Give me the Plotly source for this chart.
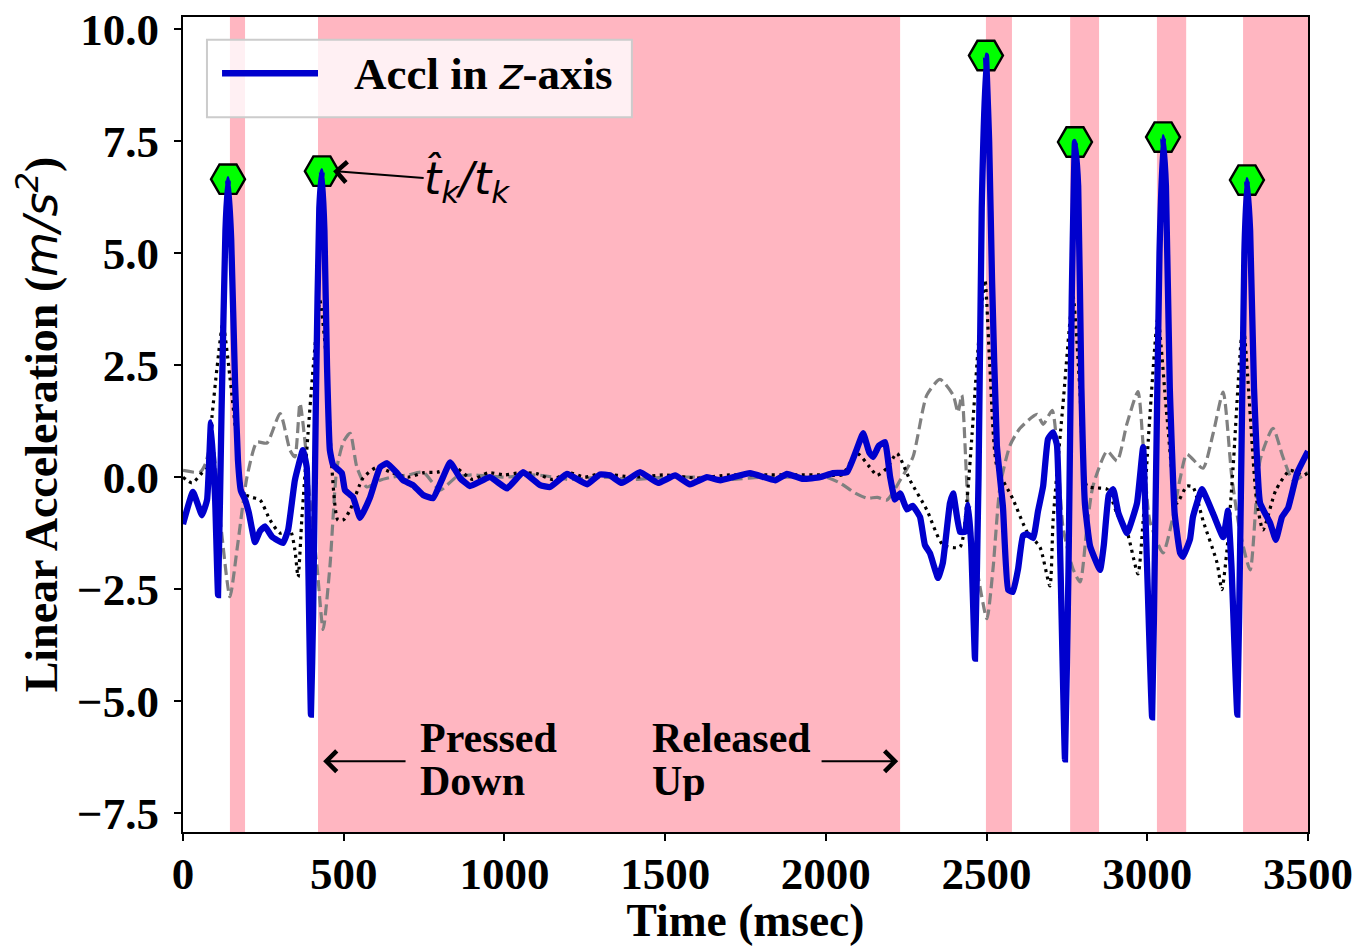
import plotly.graph_objects as go

# ---------------- data ----------------
blue_t = [0, 31, 59, 75, 87, 100, 109, 120, 132, 140, 150, 162, 171, 180, 193, 205, 224, 240, 255, 277,
          311, 327, 348, 373, 385, 390, 398, 405, 414, 424, 432, 440, 448, 457, 467, 494, 504, 529, 551, 582,
          613, 635, 666, 685, 716, 747, 778, 809, 831, 862, 893, 955, 1008, 1058, 1111, 1142, 1195, 1257, 1297, 1328,
          1365, 1422, 1478, 1531, 1577, 1630, 1671, 1764, 1842, 1879, 1929, 1982, 2022, 2066, 2095, 2116, 2135, 2147, 2165, 2184,
          2200, 2215, 2231, 2252, 2270, 2293, 2308, 2324, 2349, 2364, 2386, 2396, 2417, 2433, 2443, 2452, 2464, 2475, 2485, 2498,
          2508, 2517, 2532, 2551, 2567, 2582, 2598, 2613, 2626, 2645, 2660, 2676, 2691, 2707, 2719, 2730, 2744, 2755, 2765, 2775,
          2785, 2795, 2806, 2822, 2853, 2865, 2880, 2894, 2910, 2937, 2968, 2987, 2995, 3015, 3025, 3038, 3049, 3058, 3070, 3085,
          3102, 3111, 3133, 3142, 3170, 3205, 3236, 3251, 3262, 3280, 3290, 3302, 3310, 3320, 3332, 3351, 3382, 3400, 3419, 3438,
          3466, 3500]
blue_v = [-1.05, -0.33, -0.85, -0.5, 1.22, -0.5, -2.63, 1.5, 5.5, 6.65, 5.3, 2.1, 0.38, -0.3, -0.5, -0.8, -1.45, -1.2, -1.1, -1.33,
          -1.47, -1.18, -0.07, 0.6, 0.22, -2.0, -5.3, -3.0, 2.0, 6.0, 6.83, 5.5, 2.5, 0.6, 0.27, 0.09, -0.29, -0.45, -0.91, -0.45,
          0.22, 0.31, 0.09, -0.07, -0.18, -0.4, -0.47, 0.0, 0.33, -0.02, -0.2, 0.0, -0.25, 0.11, -0.18, -0.22, 0.07, -0.16, 0.06, 0.04,
          -0.13, 0.11, -0.13, 0.04, -0.16, 0.0, -0.07, 0.09, -0.07, 0.07, -0.04, 0.0, 0.09, 0.11, 0.6, 0.98, 0.55, 0.45, 0.7, 0.78,
          0.0, -0.5, -0.36, -0.72, -0.64, -0.89, -1.51, -1.7, -2.25, -1.91, -0.58, -0.36, -1.22, -1.22, -0.62, -1.5, -4.05, 0.0, 6.0, 9.41,
          7.5, 4.4, 0.71, -0.67, -2.51, -2.56, -2.05, -1.31, -1.27, -1.36, -0.76, -0.2, 0.85, 1.0, 0.71, -2.0, -6.3, -2.0, 4.0, 7.48,
          6.5, 2.0, -0.6, -1.54, -2.07, -1.5, -0.4, -0.27, -0.8, -1.25, -0.58, 0.67, -1.0, -5.36, -1.0, 5.0, 7.59, 6.5, 2.0, -0.8,
          -1.69, -1.78, -1.38, -0.89, -0.27, -0.82, -1.34, -0.75, -2.0, -5.3, -1.0, 5.0, 6.63, 5.5, 2.0, -0.58, -1.02, -1.4, -0.89, -0.69,
          0.09, 0.58]

dot_t = [0, 28, 60, 75, 90, 106, 124, 146, 168, 187, 215, 240, 271, 302, 333, 348, 358, 370, 389, 405,
         426, 448, 463, 482, 500, 520, 560, 603, 650, 700, 750, 790, 850, 900, 950, 1000, 1050, 1100, 1150, 1200,
         1250, 1300, 1400, 1500, 1600, 1700, 1800, 1900, 2000, 2050, 2097, 2137, 2159, 2190, 2221, 2262, 2314, 2364, 2417, 2439,
         2455, 2475, 2495, 2510, 2532, 2582, 2626, 2666, 2697, 2707, 2738, 2769, 2790, 2812, 2843, 2875, 2906, 2937, 2971, 2987,
         3008, 3033, 3061, 3092, 3123, 3142, 3173, 3217, 3232, 3248, 3267, 3298, 3339, 3360, 3400, 3444, 3485, 3500]
dot_v = [0.0, -0.13, 0.1, 0.2, 1.34, 2.45, 3.43, 2.23, 0.76, -0.36, -0.45, -0.51, -0.96, -1.25, -1.18, -1.62, -2.23, -0.89, 0.98, 2.45,
         3.94, 2.45, 0.22, -0.96, -0.95, -0.73, -0.02, 0.22, 0.1, 0.0, 0.1, 0.11, 0.2, -0.05, 0.1, 0.05, 0.1, 0.08, -0.05, 0.1,
         0.0, 0.08, 0.0, 0.05, -0.02, 0.05, 0.05, 0.05, 0.05, 0.05, 0.53, 0.22, 0.04, 0.2, 0.53, -0.07, -0.73, -1.51, -1.56, -0.51,
         0.98, 3.0, 4.4, 2.5, 0.24, -0.49, -1.22, -1.56, -2.43, -0.96, 1.65, 4.03, 2.0, -0.2, -0.24, -0.27, -0.82, -1.22, -2.16, -0.98,
         1.36, 3.54, 1.36, -0.58, -0.2, -0.22, -0.96, -1.91, -2.51, -1.62, 0.22, 3.4, -0.45, -1.18, -0.29, 0.15, 0.04, 0.1]

dash_t = [0, 53, 70, 90, 115, 146, 168, 199, 230, 261, 302, 333, 348, 364, 380, 395, 417, 436, 457, 479,
          500, 520, 541, 572, 613, 650, 700, 747, 800, 850, 900, 1000, 1100, 1200, 1300, 1400, 1500, 1600, 1700, 1800,
          1900, 2000, 2044, 2090, 2128, 2160, 2190, 2231, 2271, 2314, 2355, 2396, 2411, 2423, 2443, 2470, 2501, 2520, 2542, 2573,
          2604, 2657, 2676, 2704, 2719, 2738, 2769, 2791, 2812, 2831, 2875, 2906, 2937, 2971, 2987, 3008, 3049, 3077, 3102, 3123,
          3173, 3205, 3236, 3263, 3288, 3320, 3351, 3391, 3422, 3454, 3500]
dash_v = [0.15, 0.11, 0.3, 0.82, -0.89, -2.67, -1.62, 0.0, 0.78, 0.76, 1.42, 0.6, 0.45, 1.65, 0.76, -0.51, -2.0, -3.4, -2.0, 0.22,
          0.8, 0.98, 0.22, -0.22, -0.07, 0.0, 0.05, 0.11, -0.29, 0.0, 0.05, 0.0, 0.05, -0.05, 0.0, -0.05, 0.0, 0.0, -0.05, 0.0,
          0.0, 0.0, -0.13, -0.35, -0.47, -0.45, -0.51, -0.07, 0.45, 1.83, 2.18, 1.83, 1.45, 1.83, -0.67, -2.05, -3.16, -2.05, -0.2, 0.71,
          1.09, 1.4, 1.18, 1.49, 0.71, -1.13, -2.05, -2.34, -1.13, -0.2, 0.58, 0.36, 1.2, 1.91, 0.73, -0.98, -1.69, -0.98, -0.04, 0.51,
          0.2, 0.98, 1.9, 0.0, -1.2, -2.07, 0.38, 1.09, 0.45, -0.07, 0.11]

peak_times = [140, 432, 2498, 2775, 3049, 3310]
peak_values = [blue_v[blue_t.index(t)] for t in peak_times]

band_starts = [146, 420, 2498, 2760, 3030, 3298]
band_ends = [193, 2231, 2579, 2850, 3121, 3500]

SANS_IT = "font-family:'DejaVu Sans';font-style:italic;font-weight:normal"
series_name = f"Accl in <span style=\"{SANS_IT}\">z</span>-axis"
x_title = "Time (msec)"
y_title = f"Linear Acceleration (<span style=\"{SANS_IT}\">m/s<sup>2</sup></span>)"
peak_label = "<i>t̂</i><sub><i>k</i></sub><i>/t</i><sub><i>k</i></sub>"
x_ticks = [0, 500, 1000, 1500, 2000, 2500, 3000, 3500]
y_ticks = [-7.5, -5.0, -2.5, 0.0, 2.5, 5.0, 7.5, 10.0]

SERIF = "Liberation Serif"
BLUE = "#0000CD"
PINK = "#FFB6C1"

fig = go.Figure()

fig.add_trace(go.Scatter(x=dash_t, y=dash_v, mode="lines", showlegend=False,
                         line=dict(color="#808080", width=3.2, dash="11px,5px", shape="spline", smoothing=0.6)))
fig.add_trace(go.Scatter(x=dot_t, y=dot_v, mode="lines", showlegend=False,
                         line=dict(color="black", width=3.2, dash="3px,4.5px", shape="spline", smoothing=0.6)))
fig.add_trace(go.Scatter(x=peak_times, y=peak_values, mode="markers", showlegend=False,
                         marker=dict(symbol="hexagon2", size=34, color="#00FF00",
                                     line=dict(color="black", width=2.4))))
fig.add_trace(go.Scatter(x=blue_t, y=blue_v, mode="lines", name=series_name, showlegend=False,
                         line=dict(color=BLUE, width=6.3, shape="spline", smoothing=0.35)))

shapes = []
for s, e in zip(band_starts, band_ends):
    shapes.append(dict(type="rect", xref="x", yref="paper", x0=s, x1=e, y0=0, y1=1,
                       fillcolor=PINK, line=dict(width=0), layer="below"))

# manual legend box
shapes.append(dict(type="rect", xref="paper", yref="paper", x0=0.0213, x1=0.399, y0=0.877, y1=0.972,
                   fillcolor="rgba(255,255,255,0.8)", line=dict(color="#cccccc", width=2), layer="above"))
shapes.append(dict(type="line", xref="paper", yref="paper", x0=0.0347, x1=0.120, y0=0.931, y1=0.931,
                   line=dict(color=BLUE, width=6.3), layer="above"))

annotations = [
    dict(xref="paper", yref="paper", x=0.150, y=0.931, xanchor="left", yanchor="middle",
         text=series_name, showarrow=False, font=dict(family=SERIF, size=45, color="black", weight="bold")),
    # t_k annotation: text with arrow to the marker
    dict(xref="x", yref="y", x=peak_times[1] + 35, y=peak_values[1], axref="x", ayref="y",
         ax=884, ay=6.6, text=peak_label, showarrow=True, arrowhead=4, arrowsize=2, arrowwidth=2,
         arrowcolor="black", borderpad=0,
         font=dict(family="DejaVu Sans", size=44, color="black", weight="normal")),
    # pressed / released arrows
    dict(xref="x", yref="y", x=436, y=-6.34, axref="x", ayref="y", ax=697, ay=-6.34, text="",
         showarrow=True, arrowhead=4, arrowsize=2, arrowwidth=2, arrowcolor="black"),
    dict(xref="x", yref="y", x=2225, y=-6.34, axref="x", ayref="y", ax=1982, ay=-6.34, text="",
         showarrow=True, arrowhead=4, arrowsize=2, arrowwidth=2, arrowcolor="black"),
]
for txt, xv, yv in [("Pressed", 734, -5.82), ("Down", 734, -6.76), ("Released", 1456, -5.82), ("Up", 1456, -6.76)]:
    annotations.append(dict(xref="x", yref="y", x=xv, y=yv, xanchor="left", yanchor="middle", showarrow=False,
                            text=txt, height=41, borderpad=0, valign="middle",
                            font=dict(family=SERIF, size=42, color="black", weight="bold")))

# the page adds an 8px body margin, so the figure is 8px smaller than the window
fig.update_layout(
    width=1355, height=938,
    margin=dict(l=175, r=55, t=9, b=114, autoexpand=False),
    plot_bgcolor="white", paper_bgcolor="white",
    shapes=shapes, annotations=annotations,
    showlegend=False,
    font=dict(family=SERIF, size=42, color="black", weight="bold"),
)
fig.update_xaxes(range=[0, 3500], tickvals=x_ticks, ticks="outside", ticklen=7, tickwidth=2, tickcolor="black",
                 showline=True, linecolor="black", linewidth=2, mirror=True, showgrid=False, zeroline=False,
                 automargin=False, ticklabeloverflow="allow",
                 tickfont=dict(family=SERIF, size=45, weight="bold"), ticklabelstandoff=-6,
                 title=dict(text=x_title, font=dict(family=SERIF, size=45.5, weight="bold"), standoff=10))
fig.update_yaxes(range=[-7.92, 10.27], tickvals=y_ticks, tickformat=".1f", ticks="outside", ticklen=7, tickwidth=2,
                 tickcolor="black", showline=True, linecolor="black", linewidth=2, mirror=True, showgrid=False,
                 zeroline=False, automargin=False, ticklabeloverflow="allow",
                 tickfont=dict(family=SERIF, size=45, weight="bold"), ticklabelstandoff=6,
                 title=dict(text=y_title, font=dict(family=SERIF, size=46, weight="bold"), standoff=6))

fig.write_html("out.html")
